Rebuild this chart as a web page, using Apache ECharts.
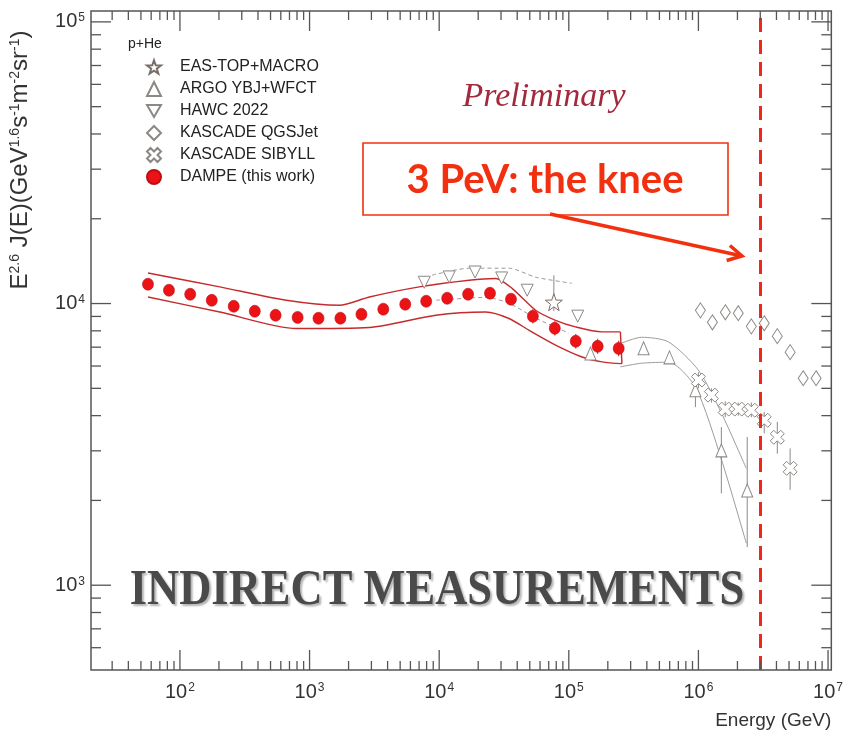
<!DOCTYPE html>
<html>
<head>
<meta charset="utf-8">
<script src="https://cdn.jsdelivr.net/npm/echarts@6/dist/echarts.min.js"></script>
<style>
  html, body { margin: 0; padding: 0; background: #fff; }
  #chart { width: 846px; height: 737px; }
</style>
</head>
<body>
<div id="chart"></div>
<script>
// ---- Axis ranges (GeV, GeV^1.6 s^-1 m^-2 sr^-1) ----
const X_MIN = 20.6, X_MAX = 1.06e7;
const Y_MIN = 500, Y_MAX = 1.093e5;
const KNEE_ENERGY = 3e6;

// ---- DAMPE p+He, E^2.6-weighted flux ----
const dampeEnergy = [56.7, 82.3, 120, 176, 260, 378, 547, 809, 1172, 1730, 2513, 3706,
  5474, 7943, 11530, 16720, 24660, 35800, 52840, 78000, 113200, 167000, 242600];
const dampeFlux = [11710, 11150, 10790, 10270, 9780, 9390, 9090, 8930, 8870, 8870, 9160, 9550,
  9945, 10190, 10440, 10790, 10880, 10360, 9010, 8170, 7350, 7050, 6930];
const dampeErrEnergy = [52840, 78000, 113200, 167000, 242600];
const dampeErrLow = [8500, 7700, 6920, 6620, 6500];
const dampeErrHigh = [9550, 8650, 7800, 7500, 7380];

// DAMPE systematic band outline
const dampeBandUpperE = [56.7, 203, 662, 1702, 2895, 7020, 17020, 27290, 36650, 55450, 79070, 112700, 180300, 250000];
const dampeBandUpperJ = [12840, 11460, 10270, 9860, 10550, 11460, 12100, 12270, 11300, 9470, 8720, 8260, 7930, 7930];
const dampeBandLowerE = [56.7, 203, 790, 2895, 9440, 22860, 34550, 49220, 79070, 126500, 180300, 257000];
const dampeBandLowerJ = [10550, 9330, 8150, 8220, 9090, 9330, 8850, 8040, 7120, 6460, 6210, 6120];

// ---- HAWC 2022 ----
const hawcEnergy = [7670, 11940, 18920, 30350, 47750, 117200];
const hawcFlux = [11900, 12430, 12940, 12330, 11150, 9020];
const hawcUpperE = [8830, 17020, 34550, 55700, 105500];
const hawcUpperJ = [12610, 13350, 13350, 12400, 11800];
const hawcLowerE = [9480, 23010, 34550, 55700, 100000];
const hawcLowerJ = [10270, 10520, 10020, 8870, 7850];

// ---- EAS-TOP + MACRO ----
const eastopEnergy = [76700];
const eastopFlux = [10110];
const eastopErrLow = [9400];
const eastopErrHigh = [12600];

// ---- ARGO-YBJ + WFCT ----
const argoEnergy = [147000, 377600, 598000, 948000, 1503000, 2380000];
const argoFlux = [6650, 6940, 6440, 4920, 3010, 2170];
const argoErrEnergy = [948000, 1503000, 2380000];
const argoErrLow = [4290, 2120, 1365];
const argoErrHigh = [5210, 3640, 3360];
const argoUpperE = [250000, 364500, 587000, 1000000, 1503000, 2340000];
const argoUpperJ = [7210, 7590, 7310, 5800, 4090, 2600];
const argoLowerE = [250000, 364500, 587000, 948000, 1503000, 2340000];
const argoLowerJ = [5960, 6140, 6190, 5050, 2800, 1410];

// ---- KASCADE (QGSJet / SIBYLL) ----
const kqEnergy = [1.036e6, 1.282e6, 1.614e6, 2.03e6, 2.56e6, 3.22e6, 4.06e6, 5.1e6, 6.43e6, 8.09e6];
const kqFlux = [9460, 8580, 9310, 9240, 8300, 8510, 7660, 6720, 5430, 5430];
const ksEnergy = [1.0e6, 1.26e6, 1.61e6, 2.03e6, 2.56e6, 3.22e6, 4.06e6, 5.1e6];
const ksFlux = [5350, 4730, 4220, 4220, 4180, 3850, 3350, 2600];
const ksErrLow = [5000, 4450, 3950, 4000, 3950, 3460, 2930, 2180];
const ksErrHigh = [5700, 5000, 4500, 4450, 4450, 4120, 3800, 3060];

// ---- styling ----
const RED = '#ec1317';
const BAND_RED = '#c62a2c';
const GREY = '#8c8884';
const SANS = "'Liberation Sans', Arial, sans-serif";
const SERIF = "'Liberation Serif', 'Times New Roman', serif";

const zip = (a, b) => a.map((v, i) => [v, b[i]]);

function errorBars(name, energies, lows, highs, color) {
  return {
    type: 'custom', name: name, silent: true, z: 3,
    data: energies.map((e, i) => [e, lows[i], highs[i]]),
    encode: { x: 0, y: [1, 2] },
    renderItem: function (params, api) {
      const lo = api.coord([api.value(0), api.value(1)]);
      const hi = api.coord([api.value(0), api.value(2)]);
      return { type: 'line', shape: { x1: lo[0], y1: lo[1], x2: hi[0], y2: hi[1] },
        style: { stroke: color, lineWidth: 1 } };
    }
  };
}

function curve(name, xs, ys, color, dashed, width) {
  return {
    type: 'line', name: name, data: zip(xs, ys), showSymbol: false, silent: true,
    smooth: 0.25, z: 1,
    lineStyle: { color: color, width: width || 1, type: dashed ? [4, 3] : 'solid' }
  };
}

// tick marks on all four frame sides: decades long, 2..9 short
const tickData = [];
for (let d = 1; d <= 7; d++) {
  for (let m = 1; m <= 9; m++) {
    const v = m * Math.pow(10, d);
    if (v > X_MIN && v < X_MAX) tickData.push([v, 1000, 0, m === 1 ? 1 : 0]);
  }
}
for (let d = 2; d <= 5; d++) {
  for (let m = 1; m <= 9; m++) {
    const v = m * Math.pow(10, d);
    if (v > Y_MIN && v < Y_MAX) tickData.push([1000, v, 1, m === 1 ? 1 : 0]);
  }
}
const tickStyle = { stroke: '#555', lineWidth: 1.3 };
const tickSeries = {
  type: 'custom', name: 'frame ticks', silent: true, z: 5,
  data: tickData, encode: { x: 0, y: 1 },
  renderItem: function (params, api) {
    const isY = api.value(2), major = api.value(3);
    if (!isY) {
      const v = api.value(0), L = major ? 20 : 9;
      const b = api.coord([v, Y_MIN]), t = api.coord([v, Y_MAX]);
      return { type: 'group', children: [
        { type: 'line', shape: { x1: b[0], y1: b[1], x2: b[0], y2: b[1] - L }, style: tickStyle },
        { type: 'line', shape: { x1: t[0], y1: t[1], x2: t[0], y2: t[1] + L }, style: tickStyle }
      ] };
    }
    const v = api.value(1), L = major ? 20 : 10;
    const l = api.coord([X_MIN, v]), r = api.coord([X_MAX, v]);
    return { type: 'group', children: [
      { type: 'line', shape: { x1: l[0], y1: l[1], x2: l[0] + L, y2: l[1] }, style: tickStyle },
      { type: 'line', shape: { x1: r[0], y1: r[1], x2: r[0] - L, y2: r[1] }, style: tickStyle }
    ] };
  }
};

function powLabel(v) {
  const e = Math.log10(v);
  if (Math.abs(e - Math.round(e)) > 1e-6) return '';
  return '{b|10}{s|' + Math.round(e) + '}';
}
const powRich = {
  b: { fontSize: 20, fontFamily: SANS, color: '#333' },
  s: { fontSize: 12, fontFamily: SANS, color: '#333', verticalAlign: 'top', padding: [0, 0, 0, 1] }
};

// marker outlines
const STAR = 'path://M0,-10L2.35,-3.24L9.51,-3.09L3.8,1.24L5.88,8.09L0,4L-5.88,8.09L-3.8,1.24L-9.51,-3.09L-2.35,-3.24Z';
const DOWN_TRIANGLE = 'path://M0,10L-8.66,-5L8.66,-5Z';
const XCROSS = 'path://M1.414,-2.828L2.828,-1.414L1.414,0L2.828,1.414L1.414,2.828L0,1.414L-1.414,2.828L-2.828,1.414L-1.414,0L-2.828,-1.414L-1.414,-2.828L0,-1.414Z';
const hollow = { color: '#fff', borderColor: GREY, borderWidth: 1, opacity: 1 };

const chart = echarts.init(document.getElementById('chart'), null, { renderer: 'canvas' });

// arrow from the annotation box to the knee
const arrowFrom = [550, 214], arrowTo = [742, 256];
const ang = Math.atan2(arrowTo[1] - arrowFrom[1], arrowTo[0] - arrowFrom[0]);
const headLen = 16, headSpread = 0.5;
const headPts = [
  [arrowTo[0] - headLen * Math.cos(ang - headSpread), arrowTo[1] - headLen * Math.sin(ang - headSpread)],
  arrowTo,
  [arrowTo[0] - headLen * Math.cos(ang + headSpread), arrowTo[1] - headLen * Math.sin(ang + headSpread)]
];
const ANNOT = '#f2300f';

chart.setOption({
  animation: false,
  backgroundColor: '#fff',
  grid: { left: 91, right: 13, top: 11, bottom: 67, show: true, borderColor: '#555', borderWidth: 1.5, backgroundColor: 'transparent' },
  xAxis: {
    type: 'log', min: X_MIN, max: X_MAX, logBase: 10,
    axisLine: { show: false }, axisTick: { show: false }, splitLine: { show: false }, minorTick: { show: false },
    axisLabel: { formatter: powLabel, rich: powRich, margin: 12, showMinLabel: true, showMaxLabel: true },
    name: 'Energy (GeV)', nameLocation: 'end', nameGap: 0,
    nameTextStyle: { fontFamily: SANS, fontSize: 19, color: '#333', align: 'right', verticalAlign: 'top', padding: [41, 0, 0, 0] }
  },
  yAxis: {
    type: 'log', min: Y_MIN, max: Y_MAX, logBase: 10,
    axisLine: { show: false }, axisTick: { show: false }, splitLine: { show: false }, minorTick: { show: false },
    axisLabel: { formatter: powLabel, rich: powRich, margin: 6 }
  },
  legend: {
    orient: 'vertical', left: 141, top: 54, itemWidth: 14, itemHeight: 14, itemGap: 6,
    selectedMode: false,
    data: ['EAS-TOP+MACRO', 'ARGO YBJ+WFCT', 'HAWC 2022', 'KASCADE QGSJet', 'KASCADE SIBYLL', 'DAMPE (this work)'],
    textStyle: { fontFamily: SANS, fontSize: 16, color: '#222', padding: [0, 0, 0, 14] }
  },
  graphic: [
    { type: 'text', left: 128, top: 37, style: { text: 'p+He', fontFamily: SANS, fontSize: 14, fill: '#222' } },
    { type: 'text', x: 544, y: 97, style: { text: 'Preliminary', fontFamily: SERIF, fontStyle: 'italic', fontSize: 34, fill: '#a3293d', align: 'center', verticalAlign: 'middle' } },
    { type: 'rect', shape: { x: 363, y: 143, width: 365, height: 72 }, style: { fill: '#fff', stroke: ANNOT, lineWidth: 1.6 }, z: 10 },
    { type: 'text', x: 545, y: 180, z: 11, style: { text: '3 PeV: the knee', fontFamily: "Lato, 'Open Sans', sans-serif", fontWeight: 'bold', fontSize: 40, fill: ANNOT, align: 'center', verticalAlign: 'middle' } },
    { type: 'line', z: 11, shape: { x1: arrowFrom[0], y1: arrowFrom[1], x2: arrowTo[0], y2: arrowTo[1] }, style: { stroke: ANNOT, lineWidth: 3.5 } },
    { type: 'polyline', z: 11, shape: { points: headPts }, style: { stroke: ANNOT, lineWidth: 3.5, fill: null } },
    { type: 'text', x: 437, y: 591, scaleX: 0.89, z: 4,
      style: { text: 'INDIRECT MEASUREMENTS', fontFamily: SERIF, fontWeight: 'bold', fontSize: 50, fill: '#4a4a4a',
        align: 'center', verticalAlign: 'middle', textShadowColor: 'rgba(0,0,0,0.3)', textShadowBlur: 2, textShadowOffsetX: 2, textShadowOffsetY: 2 } },
    { type: 'text', x: 20, y: 160, rotation: Math.PI / 2,
      style: { text: '{m|E}{u|2.6}{m| J(E)(GeV}{u|1.6}{m|s}{u|-1}{m|m}{u|-2}{m|sr}{u|-1}{m|)}', align: 'center', verticalAlign: 'middle',
        rich: { m: { fontFamily: SANS, fontSize: 24, fill: '#333' }, u: { fontFamily: SANS, fontSize: 14, fill: '#333', verticalAlign: 'top' } } } }
  ],
  series: [
    tickSeries,
    curve('dampe band upper', dampeBandUpperE, dampeBandUpperJ, BAND_RED, false, 1.4),
    curve('dampe band lower', dampeBandLowerE, dampeBandLowerJ, BAND_RED, false, 1.4),
    { type: 'line', name: 'dampe band edge', silent: true, showSymbol: false, z: 1,
      data: [[dampeBandUpperE[dampeBandUpperE.length - 1], dampeBandUpperJ[dampeBandUpperJ.length - 1]],
             [dampeBandLowerE[dampeBandLowerE.length - 1], dampeBandLowerJ[dampeBandLowerJ.length - 1]]],
      lineStyle: { color: BAND_RED, width: 1.4 } },
    curve('hawc upper', hawcUpperE, hawcUpperJ, '#9a9a9a', true, 1),
    curve('hawc lower', hawcLowerE, hawcLowerJ, '#9a9a9a', true, 1),
    curve('argo upper', argoUpperE, argoUpperJ, '#a09c98', false, 1),
    curve('argo lower', argoLowerE, argoLowerJ, '#a09c98', false, 1),
    errorBars('eastop err', eastopEnergy, eastopErrLow, eastopErrHigh, GREY),
    errorBars('argo err', argoErrEnergy, argoErrLow, argoErrHigh, GREY),
    errorBars('kascade err', ksEnergy, ksErrLow, ksErrHigh, GREY),
    errorBars('dampe err', dampeErrEnergy, dampeErrLow, dampeErrHigh, RED),
    { type: 'scatter', name: 'EAS-TOP+MACRO', data: zip(eastopEnergy, eastopFlux), symbol: STAR, symbolSize: 17,
      itemStyle: { color: '#fff', borderColor: '#7a6e66', borderWidth: 1, opacity: 1 }, z: 4 },
    { type: 'scatter', name: 'ARGO YBJ+WFCT', data: zip(argoEnergy, argoFlux), symbol: 'triangle', symbolSize: [11, 13], itemStyle: hollow, z: 4 },
    { type: 'scatter', name: 'HAWC 2022', data: zip(hawcEnergy, hawcFlux), symbol: DOWN_TRIANGLE, symbolSize: [12, 12], itemStyle: hollow, z: 4 },
    { type: 'scatter', name: 'KASCADE QGSJet', data: zip(kqEnergy, kqFlux), symbol: 'diamond', symbolSize: [10, 15], itemStyle: hollow, z: 4 },
    { type: 'scatter', name: 'KASCADE SIBYLL', data: zip(ksEnergy, ksFlux), symbol: XCROSS, symbolSize: 14, itemStyle: hollow, z: 4 },
    { type: 'scatter', name: 'DAMPE (this work)', data: zip(dampeEnergy, dampeFlux), symbol: 'circle', symbolSize: [11, 12],
      itemStyle: { color: RED, borderColor: '#c00c10', borderWidth: 0.6, opacity: 1 }, z: 6,
      markLine: { silent: true, symbol: ['none', 'none'], label: { show: false },
        lineStyle: { color: '#f0281a', width: 3, type: [14, 8], opacity: 1 },
        data: [{ xAxis: KNEE_ENERGY }] } }
  ]
});
</script>
</body>
</html>
